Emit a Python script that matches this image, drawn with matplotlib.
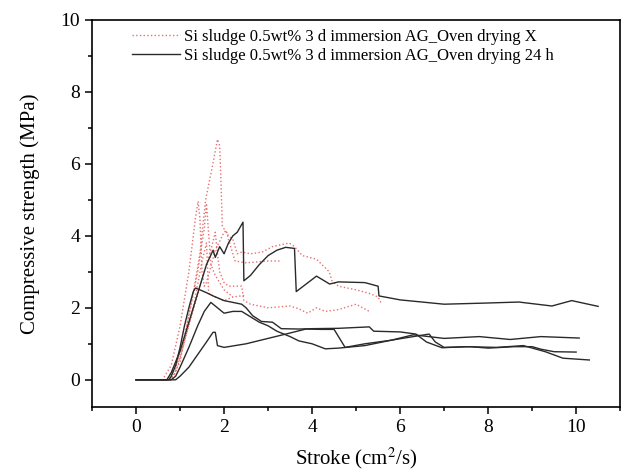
import matplotlib
matplotlib.use('Agg')
import matplotlib.pyplot as plt
from matplotlib.ticker import MultipleLocator

plt.rcParams['font.family'] = ['Liberation Serif', 'DejaVu Serif']
plt.rcParams['mathtext.fontset'] = 'stix'

# red dotted: Oven drying X
red_x = [
    [0, 0.7, 0.9, 1.1, 1.3, 1.45, 1.58, 1.73, 1.85, 1.9, 1.93, 1.96, 2.1, 2.2, 2.3, 2.4, 2.6, 2.87, 3.1,
     3.48, 3.6, 3.78, 4.1, 4.39, 4.45, 4.6, 5.0, 5.3, 5.5, 5.56],
    [0, 0.6, 0.8, 1.0, 1.2, 1.35, 1.41, 1.45, 1.5, 1.55, 1.6, 1.8, 2.0, 2.05, 2.1, 2.25, 2.5, 3.0, 3.3],
    [0, 0.75, 0.9, 1.2, 1.5, 1.7, 1.8, 1.85, 1.9, 2.0, 2.1, 2.4, 2.45, 2.6, 3.0, 3.5, 3.7, 3.9, 4.1, 4.3,
     4.6, 5.0, 5.33],
    [0, 0.7, 1.0, 1.3, 1.5, 1.6, 1.65, 1.8, 2.0, 2.2, 2.5],
    [0, 0.8, 1.0, 1.2, 1.4, 1.55, 1.6, 1.7, 1.8, 2.0, 2.2],
]
red_y = [
    [0, 0, 0.3, 1.2, 2.4, 3.5, 5.0, 5.9, 6.68, 6.5, 5.5, 4.27, 4.0, 3.9, 3.5, 3.55, 3.5, 3.55, 3.7,
     3.8, 3.7, 3.45, 3.35, 3.0, 2.75, 2.6, 2.5, 2.4, 2.3, 2.15],
    [0, 0, 0.4, 1.5, 3.0, 4.5, 4.96, 4.5, 3.0, 2.6, 2.7, 3.6, 4.1, 4.15, 3.9, 3.3, 3.25, 3.3, 3.3],
    [0, 0, 0.2, 1.5, 2.8, 3.6, 4.1, 3.5, 3.0, 2.7, 2.6, 2.6, 2.2, 2.1, 2.0, 2.05, 1.97, 1.85, 2.0, 1.9,
     1.95, 2.1, 1.88],
    [0, 0, 0.6, 2.0, 3.3, 3.8, 2.4, 2.3, 2.2, 2.3, 2.35],
    [0, 0, 0.5, 1.8, 3.0, 4.2, 4.9, 3.2, 2.9, 2.5, 2.3],
]

# black solid: Oven drying 24 h
black_x = [
    [0, 0.7, 0.8, 1.0, 1.2, 1.4, 1.6, 1.75, 1.8, 1.9, 2.0, 2.1, 2.2, 2.3, 2.43, 2.45, 2.6, 2.8, 3.0, 3.2,
     3.4, 3.6, 3.64, 3.8, 4.1, 4.4, 4.6, 5.2, 5.5, 5.52, 6.0, 7.0, 7.9, 8.7, 9.45, 9.9, 10.5],
    [0, 0.75, 0.8, 0.9, 1.0, 1.1, 1.2, 1.3, 1.35, 1.45, 1.6, 1.75, 2.0, 2.2, 2.4, 2.5, 2.65, 2.85, 3.1,
     3.3, 3.7, 4.0, 4.6, 5.3, 5.4, 6.0, 6.36, 6.6, 6.95, 7.5, 8.2, 8.8, 9.3, 9.7, 10.3],
    [0, 0.8, 0.9, 1.0, 1.2, 1.4, 1.55, 1.7, 1.85, 2.0, 2.2, 2.4, 2.6, 2.8, 3.0, 3.2, 3.5, 3.7, 4.0, 4.3,
     4.6, 5.2, 5.8, 6.3, 7.0, 7.8, 8.5, 9.2, 10.07],
    [0, 0.9, 1.0, 1.2, 1.4, 1.6, 1.75, 1.8, 1.85, 2.0, 2.5, 3.0, 3.5, 3.86, 4.2, 4.5, 4.75, 5.2, 5.8,
     6.3, 6.66, 6.8, 7.0, 7.6, 8.0, 8.6, 9.0, 9.2, 9.5, 10.0],
]
black_y = [
    [0, 0, 0.2, 0.8, 1.6, 2.4, 3.2, 3.6, 3.4, 3.7, 3.5, 3.8, 4.0, 4.1, 4.38, 2.75, 2.9, 3.2, 3.45, 3.6,
     3.68, 3.65, 2.45, 2.6, 2.88, 2.66, 2.72, 2.7, 2.6, 2.33, 2.22, 2.1, 2.13, 2.16, 2.05, 2.2, 2.04],
    [0, 0, 0.1, 0.4, 0.9, 1.5, 2.0, 2.45, 2.55, 2.5, 2.42, 2.33, 2.2, 2.15, 2.1, 2.0, 1.78, 1.62, 1.6,
     1.42, 1.41, 1.42, 1.43, 1.47, 1.35, 1.33, 1.27, 1.05, 0.89, 0.92, 0.9, 0.95, 0.78, 0.6, 0.55],
    [0, 0, 0.1, 0.35, 0.9, 1.5, 1.9, 2.15, 2.0, 1.85, 1.9, 1.9, 1.75, 1.6, 1.5, 1.35, 1.2, 1.08, 1.0,
     0.86, 0.88, 0.95, 1.1, 1.25, 1.15, 1.2, 1.12, 1.2, 1.16],
    [0, 0, 0.1, 0.35, 0.7, 1.05, 1.32, 1.32, 0.95, 0.9, 1.0, 1.15, 1.3, 1.41, 1.4, 1.4, 0.9, 1.0, 1.1,
     1.2, 1.27, 1.05, 0.9, 0.92, 0.88, 0.92, 0.92, 0.85, 0.78, 0.77],
]

label_red = "Si sludge 0.5wt% 3 d immersion AG_Oven drying X"
label_black = "Si sludge 0.5wt% 3 d immersion AG_Oven drying 24 h"

fig = plt.figure(figsize=(6.22, 4.73), dpi=100)
ax = fig.add_axes([0.148, 0.14, 0.849, 0.818])

for i, (xs, ys) in enumerate(zip(red_x, red_y)):
    ax.plot(xs, ys, color='#e8706e', linestyle=':', linewidth=1.0,
            label=label_red if i == 0 else None)
for i, (xs, ys) in enumerate(zip(black_x, black_y)):
    ax.plot(xs, ys, color='#2a2a2a', linestyle='-', linewidth=1.0,
            label=label_black if i == 0 else None)

ax.set_xlim(-1, 11)
ax.set_ylim(-0.75, 10)
ax.xaxis.set_major_locator(MultipleLocator(2))
ax.xaxis.set_minor_locator(MultipleLocator(1))
ax.yaxis.set_major_locator(MultipleLocator(2))
ax.yaxis.set_minor_locator(MultipleLocator(1))
ax.tick_params(which='both', direction='out', top=False, right=False, width=1.1, labelsize=14)
ax.tick_params(which='major', length=5)
ax.tick_params(which='minor', length=3)
for s in ax.spines.values():
    s.set_linewidth(1.2)

ax.set_xlabel("Stroke (cm$^2$/s)", fontsize=15, labelpad=7)
ax.set_ylabel("Compressive strength (MPa)", fontsize=15, labelpad=15)

ax.legend(loc='upper left', bbox_to_anchor=(0.058, 1.0), frameon=False, fontsize=12,
          handlelength=2.9, handletextpad=0.2, labelspacing=0.15, borderaxespad=0.15)

plt.savefig("out.png", dpi=100)
